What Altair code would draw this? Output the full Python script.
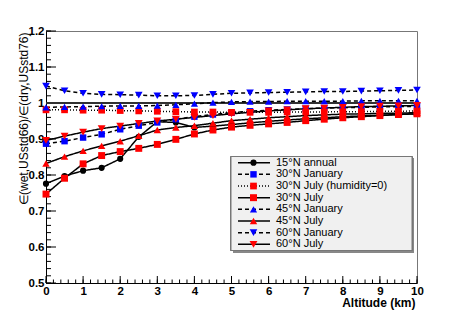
import altair as alt
import pandas as pd
import numpy as np

altitude = [0, 0.5, 1, 1.5, 2, 2.5, 3, 3.5, 4, 4.5, 5, 5.5, 6, 6.5, 7, 7.5, 8, 8.5, 9, 9.5, 10]

series_names = [
    "15°N annual",
    "30°N January",
    "30°N July (humidity=0)",
    "30°N July",
    "45°N January",
    "45°N July",
    "60°N January",
    "60°N July",
]

n15_annual = [0.776, 0.797, 0.812, 0.820, 0.845, 0.906, 0.948, 0.946, 0.932, 0.936, 0.940,
              0.945, 0.949, 0.953, 0.956, 0.959, 0.962, 0.964, 0.966, 0.968, 0.970]
n30_january = [0.887, 0.894, 0.904, 0.913, 0.927, 0.937, 0.946, 0.955, 0.962, 0.968, 0.973,
               0.977, 0.980, 0.982, 0.984, 0.986, 0.987, 0.988, 0.989, 0.990, 0.990]
n30_july_dry = [0.981, 0.981, 0.980, 0.980, 0.979, 0.978, 0.977, 0.976, 0.975, 0.975, 0.974,
                0.974, 0.974, 0.975, 0.975, 0.975, 0.976, 0.976, 0.977, 0.977, 0.978]
n30_july = [0.747, 0.791, 0.831, 0.854, 0.865, 0.874, 0.885, 0.899, 0.914, 0.925, 0.933,
            0.938, 0.942, 0.946, 0.951, 0.955, 0.959, 0.962, 0.965, 0.968, 0.970]
n45_january = [0.988, 0.989, 0.990, 0.991, 0.992, 0.992, 0.993, 0.995, 0.998, 1.001, 1.003,
               1.004, 1.004, 1.005, 1.005, 1.005, 1.005, 1.006, 1.006, 1.006, 1.006]
n45_july = [0.832, 0.851, 0.867, 0.881, 0.894, 0.909, 0.925, 0.932, 0.937, 0.944, 0.951,
            0.955, 0.959, 0.962, 0.965, 0.967, 0.969, 0.970, 0.971, 0.972, 0.973]
n60_january = [1.047, 1.034, 1.027, 1.024, 1.023, 1.022, 1.020, 1.020, 1.021, 1.024, 1.027,
               1.028, 1.029, 1.030, 1.031, 1.032, 1.032, 1.033, 1.034, 1.035, 1.036]
n60_july = [0.896, 0.908, 0.919, 0.929, 0.936, 0.943, 0.950, 0.955, 0.960, 0.965, 0.970,
            0.974, 0.978, 0.981, 0.984, 0.986, 0.988, 0.990, 0.991, 0.992, 0.993]

series_values = [n15_annual, n30_january, n30_july_dry, n30_july,
                 n45_january, n45_july, n60_january, n60_july]

series_colors = ["#000000", "#0000ff", "#ff0000", "#ff0000", "#0000ff", "#ff0000", "#0000ff", "#ff0000"]
series_shapes = ["circle", "square", "square", "square", "triangle-up", "triangle-up",
                 "triangle-down", "triangle-down"]
series_dashes = [[1, 0], [4, 3], [1, 2], [1, 0], [4, 3], [1, 0], [4, 3], [1, 0]]
series_sizes = [38, 62, 62, 62, 50, 50, 50, 50]

y_major = [0.5, 0.6, 0.7, 0.8, 0.9, 1.0, 1.1, 1.2]
x_major = [0, 1, 2, 3, 4, 5, 6, 7, 8, 9, 10]

rows = []
for name, vals in zip(series_names, series_values):
    for a, v in zip(altitude, vals):
        rows.append({"alt": a, "val": v, "series": name})
df = pd.DataFrame(rows)

y_minor = pd.DataFrame({"val": np.round(np.arange(0.5, 1.2001, 0.02), 3)})
y_maj = pd.DataFrame({"val": y_major})
x_minor = pd.DataFrame({"alt": np.round(np.arange(0, 10.001, 0.2), 2)})
x_maj = pd.DataFrame({"alt": x_major})

W, H = 371, 252
FONT = "Liberation Sans"

xscale = alt.Scale(domain=[0, 10], nice=False, zero=False)
yscale = alt.Scale(domain=[0.5, 1.2], nice=False, zero=False)

xaxis = alt.Axis(values=x_major, format="d", title="Altitude (km)", grid=False, ticks=False,
                 domainColor="#000000", domainWidth=1, labelFont=FONT, labelFontWeight="bold",
                 labelFontSize=11.5, labelColor="#000000", labelPadding=2, labelFlush=False,
                 titleFont=FONT, titleFontWeight="bold", titleFontSize=12, titleColor="#000000",
                 titleAnchor="end", titleAlign="right", titleX=W - 2, titleY=23,
                 titleBaseline="alphabetic")
yaxis = alt.Axis(values=y_major, format=".1~f",
                 title="∈(wet,USstd66)/∈(dry,USstd76)", grid=False, ticks=False,
                 domainColor="#000000", domainWidth=1, labelFont=FONT, labelFontWeight="bold",
                 labelFontSize=11.5, labelColor="#000000", labelPadding=2, labelFlush=False,
                 titleFont=FONT, titleFontWeight="normal", titleFontSize=12, titleColor="#000000",
                 titleAnchor="end", titleAlign="right", titleAngle=-90, titleX=-19, titleY=1,
                 titleBaseline="alphabetic")

cscale = alt.Scale(domain=series_names, range=series_colors)
shscale = alt.Scale(domain=series_names, range=series_shapes)
dscale = alt.Scale(domain=series_names, range=series_dashes)
szscale = alt.Scale(domain=series_names, range=series_sizes)

lines = alt.Chart(df).mark_line(strokeWidth=1.5, color="#000000").encode(
    x=alt.X("alt:Q", scale=xscale, axis=xaxis),
    y=alt.Y("val:Q", scale=yscale, axis=yaxis),
    detail="series:N",
    strokeDash=alt.StrokeDash("series:N", scale=dscale, legend=None),
)
points = alt.Chart(df).mark_point(filled=True, opacity=1, strokeWidth=0).encode(
    x=alt.X("alt:Q", scale=xscale, axis=xaxis),
    y=alt.Y("val:Q", scale=yscale, axis=yaxis),
    color=alt.Color("series:N", scale=cscale, legend=None),
    shape=alt.Shape("series:N", scale=shscale, legend=None),
    size=alt.Size("series:N", scale=szscale, legend=None),
)
ref_line = alt.Chart(df).mark_rule(color="#333333", strokeWidth=1).encode(
    y=alt.datum(1.0, scale=yscale, axis=yaxis)
)
ytm = alt.Chart(y_maj).mark_rule(color="#000000", strokeWidth=1).encode(
    y=alt.Y("val:Q", scale=yscale, axis=yaxis), x=alt.value(0), x2=alt.value(10))
ytn = alt.Chart(y_minor).mark_rule(color="#000000", strokeWidth=1).encode(
    y=alt.Y("val:Q", scale=yscale, axis=yaxis), x=alt.value(0), x2=alt.value(5))
xtm = alt.Chart(x_maj).mark_rule(color="#000000", strokeWidth=1).encode(
    x=alt.X("alt:Q", scale=xscale, axis=xaxis), y=alt.value(H), y2=alt.value(H - 7))
xtn = alt.Chart(x_minor).mark_rule(color="#000000", strokeWidth=1).encode(
    x=alt.X("alt:Q", scale=xscale, axis=xaxis), y=alt.value(H), y2=alt.value(H - 3.5))

main = alt.layer(ytn, ytm, xtn, xtm, ref_line, lines, points)

# legend
leg_df = pd.DataFrame({"series": series_names, "idx": list(range(len(series_names)))})
ly = alt.Y("idx:Q", scale=alt.Scale(domain=[0, 7], range=[131.7, 213.3]), axis=None)
leg_shadow = alt.Chart(leg_df).mark_rect(fill="#888888").encode(
    x=alt.value(187), x2=alt.value(368), y=alt.value(127.5), y2=alt.value(221.5))
leg_bg = alt.Chart(leg_df).mark_rect(fill="#f0f0f0", stroke="#777777", strokeWidth=1).encode(
    x=alt.value(185), x2=alt.value(366), y=alt.value(125.5), y2=alt.value(219.5))
leg_lines = alt.Chart(leg_df).mark_rule(strokeWidth=1.5, color="#000000").encode(
    y=ly, x=alt.value(192), x2=alt.value(224),
    strokeDash=alt.StrokeDash("series:N", scale=dscale, legend=None),
)
leg_pts = alt.Chart(leg_df).mark_point(filled=True, opacity=1, strokeWidth=0).encode(
    y=ly, x=alt.value(207.5),
    color=alt.Color("series:N", scale=cscale, legend=None),
    shape=alt.Shape("series:N", scale=shscale, legend=None),
    size=alt.Size("series:N", scale=szscale, legend=None),
)
leg_txt = alt.Chart(leg_df).mark_text(align="left", baseline="middle", font=FONT, fontSize=11,
                                      color="#000000").encode(
    y=ly, x=alt.value(230), text="series:N")
legend = alt.layer(leg_shadow, leg_bg, leg_lines, leg_pts, leg_txt)

chart = alt.layer(main, legend).resolve_scale(y="independent").properties(
    width=W, height=H,
    autosize=alt.AutoSizeParams(type="none"),
    padding={"left": 38, "top": 23, "right": 30, "bottom": 28},
).configure_view(stroke="#777777", strokeWidth=1)

chart.save("out.html", embed_options={"renderer": "svg", "actions": False})
